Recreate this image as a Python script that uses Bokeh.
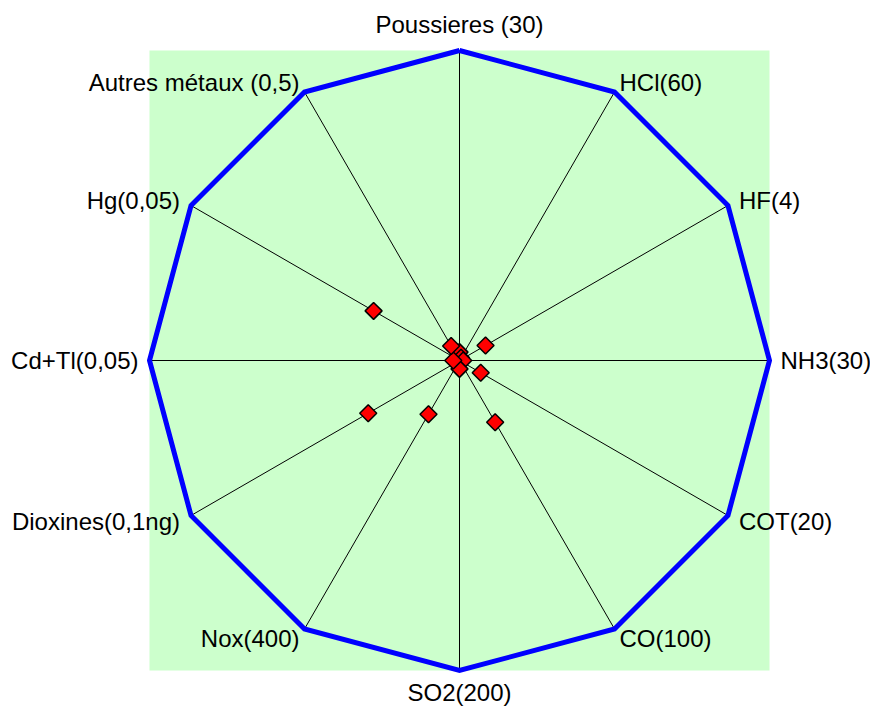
import numpy as np
from bokeh.plotting import figure
from bokeh.models import Range1d, ColumnDataSource
from bokeh.core.properties import value
from bokeh.embed import file_html
from bokeh.resources import INLINE

# Axes of the radar (clockwise from top), label gives the regulatory limit
categories = ["Poussieres (30)", "HCl(60)", "HF(4)", "NH3(30)", "COT(20)", "CO(100)",
              "SO2(200)", "Nox(400)", "Dioxines(0,1ng)", "Cd+Tl(0,05)", "Hg(0,05)",
              "Autres métaux (0,5)"]
# Limit (normalised to 1) and measured values relative to the limit
limite = [1, 1, 1, 1, 1, 1, 1, 1, 1, 1, 1, 1]
mesure = [0.027, 0.010, 0.097, 0.012, 0.079, 0.23, 0.027, 0.20, 0.34, 0.020, 0.32, 0.054]

n = len(categories)
ang = np.arange(n) * 2 * np.pi / n
sx, cy = np.sin(ang), np.cos(ang)

W, H = 870, 708
cx_px, cy_px, R = 459, 360, 310
p = figure(width=W, height=H, output_backend="svg", toolbar_location=None,
           x_range=Range1d(-cx_px / R, (W - cx_px) / R),
           y_range=Range1d(-(H - cy_px) / R, cy_px / R),
           x_axis_type=None, y_axis_type=None, min_border=0,
           background_fill_color="white", border_fill_color="white")
p.outline_line_color = None
p.grid.visible = False

lim = np.array(limite, dtype=float)
p.quad(left=[float((lim * sx).min())], right=[float((lim * sx).max())],
       bottom=[float((lim * cy).min())], top=[float((lim * cy).max())],
       fill_color="#CCFFCC", line_color=None)

# spokes
p.multi_line(xs=[[0, float(x)] for x in lim * sx], ys=[[0, float(y)] for y in lim * cy],
             line_color="black", line_width=1)

# limit polygon
px = list(lim * sx) + [lim[0] * sx[0]]
py = list(lim * cy) + [lim[0] * cy[0]]
p.line(px, py, line_color="#0000FF", line_width=5, line_join="miter")

# measured points
m = np.array(mesure)
p.scatter(m * sx, m * cy, marker="square", angle=np.pi / 4, size=12,
          fill_color="#FF0000", line_color="black", line_width=1.5)

# labels
aligns, xo, yo = [], [], []
for s, c in zip(sx, cy):
    gap = 11 if abs(s) > 0.8 else 5
    if s > 0.1:
        aligns.append("left"); xo.append(gap)
    elif s < -0.1:
        aligns.append("right"); xo.append(-gap)
    else:
        aligns.append("center"); xo.append(0)
    if abs(s) < 0.1:
        yo.append(-26 if c > 0 else 22)
    else:
        yo.append(float(-11 * c))
src = ColumnDataSource(dict(x=lim * sx, y=lim * cy, t=categories, a=aligns, xo=xo, yo=yo))
p.text(x="x", y="y", text="t", source=src, text_align="a", x_offset="xo", y_offset="yo",
       text_baseline="middle", text_font=value("Liberation Sans"),
       text_font_size="24px", text_color="black")

open("out.html", "w").write(file_html(p, INLINE))
